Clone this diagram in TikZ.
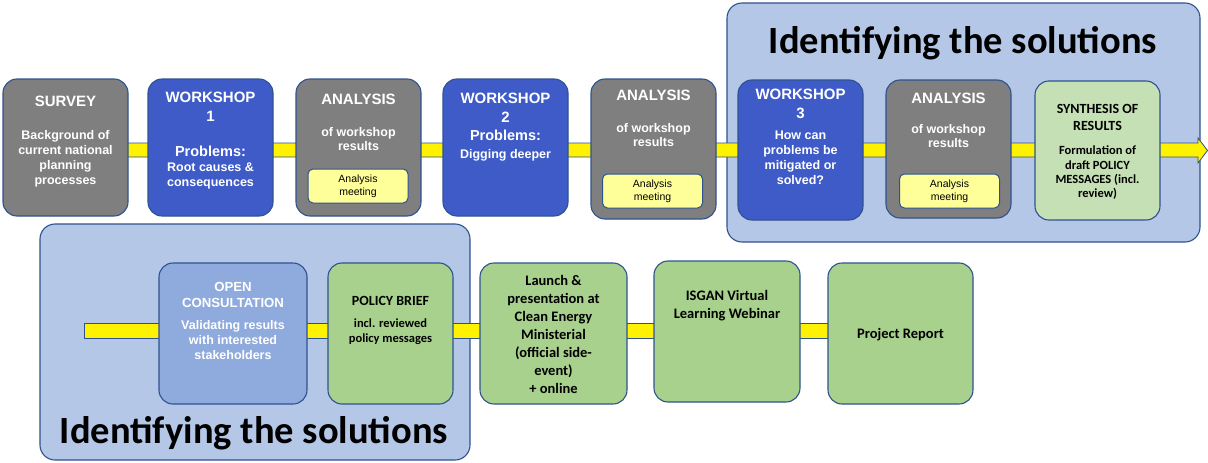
\documentclass[tikz,border=0pt]{standalone}
\usepackage{fontspec}
\setmainfont{Liberation Sans}
\newfontfamily\calib{Carlito}
\usetikzlibrary{positioning}
\definecolor{edge}{HTML}{2F528F}
\definecolor{stepgray}{HTML}{7F7F7F}
\definecolor{wsblue}{HTML}{3F5BC8}
\definecolor{panel}{HTML}{B4C7E7}
\definecolor{consultblue}{HTML}{8FAADC}
\definecolor{leaf}{HTML}{A9D18E}
\definecolor{synthgreen}{HTML}{C5E0B4}
\definecolor{meet}{HTML}{FFFF99}
\pgfdeclarelayer{panels}
\pgfdeclarelayer{bars}
\pgfsetlayers{panels,bars,main}

\begin{document}
\begin{tikzpicture}[x=1pt,y=-1pt,
  stage/.style={draw=edge,line width=1.1pt,rounded corners=14pt,minimum width=125pt,minimum height=137pt,inner sep=0pt},
  grey/.style={stage,fill=stepgray},
  ws/.style={stage,fill=wsblue},
  leafbox/.style={stage,fill=leaf},
  head/.style={anchor=north,inner sep=0pt,align=center,text=white,font=\fontsize{15}{18.5}\selectfont\bfseries},
  body/.style={anchor=north,inner sep=0pt,align=center,text=white,font=\fontsize{12.5}{15}\selectfont\bfseries},
  ghead/.style={anchor=north,inner sep=0pt,align=center,font=\calib\fontsize{14}{17}\selectfont\bfseries},
  gbody/.style={anchor=north,inner sep=0pt,align=center,font=\calib\fontsize{12.5}{14.3}\selectfont\bfseries},
  gbig/.style={anchor=north,inner sep=0pt,align=center,font=\calib\fontsize{14.5}{18}\selectfont\bfseries},
  meeting/.style={draw=edge,line width=1pt,fill=meet,rounded corners=5pt,minimum width=100pt,minimum height=34pt,inner sep=0pt,align=center,font=\fontsize{10.5}{13}\selectfont},
  panelbox/.style={draw=edge,line width=1.1pt,fill=panel,rounded corners=15pt},
  bar/.style={draw=edge,line width=0.8pt,fill=yellow},
  title/.style={anchor=base,inner sep=0pt,font=\calib\fontsize{38.5}{40}\selectfont\bfseries}]
\useasboundingbox (0,0) rectangle (1208,463);

\begin{pgfonlayer}{panels}
\draw[panelbox] (727,3) rectangle (1200,242);
\draw[panelbox] (40,224) rectangle (470,460);
\end{pgfonlayer}

% first row
\node[grey] (survey) at (65.5,147.5) {};
\node[head,below=17pt of survey.north] (survey-h) {SURVEY};
\node[body,below=52pt of survey.north] (survey-b) {Background of\\current national\\planning\\processes};

\node[ws] (wsone) at (210.5,147.5) {};
\node[head,below=13.5pt of wsone.north] (wsone-h) {WORKSHOP\\1};
\node[body,below=67pt of wsone.north] (wsone-b) {{\fontsize{14.5}{15}\selectfont Problems:}\\Root causes \&\\consequences};

\node[grey] (anone) at (358.5,147.5) {};
\node[head,below=15.5pt of anone.north] (anone-h) {ANALYSIS};
\node[body,font=\fontsize{12.5}{14}\selectfont\bfseries,below=49pt of anone.north] (anone-b) {of workshop\\results};
\node[meeting] (meetone) at (358,186) {Analysis\\meeting};

\node[ws] (wstwo) at (505.5,147.5) {};
\node[head,below=14.5pt of wstwo.north] (wstwo-h) {WORKSHOP\\2};
\node[body,font=\fontsize{12.5}{18}\selectfont\bfseries,below=51pt of wstwo.north] (wstwo-b) {{\fontsize{14.5}{15}\selectfont Problems:}\\Digging deeper};

\node[grey,minimum height=140pt] (antwo) at (653.5,149) {};
\node[head,below=11pt of antwo.north] (antwo-h) {ANALYSIS};
\node[body,font=\fontsize{12.5}{14}\selectfont\bfseries,below=45pt of antwo.north] (antwo-b) {of workshop\\results};
\node[meeting] (meettwo) at (652.5,191) {Analysis\\meeting};

\node[ws,minimum height=140pt] (wsthree) at (800.5,150) {};
\node[head,below=9.5pt of wsthree.north] (wsthree-h) {WORKSHOP\\3};
\node[body,below=51pt of wsthree.north] (wsthree-b) {How can\\problems be\\mitigated or\\solved?};

\node[grey,minimum height=138pt] (anthree) at (948.5,149) {};
\node[head,below=13pt of anthree.north] (anthree-h) {ANALYSIS};
\node[body,font=\fontsize{12.5}{14}\selectfont\bfseries,below=45pt of anthree.north] (anthree-b) {of workshop\\results};
\node[meeting] (meetthree) at (949.5,191) {Analysis\\meeting};

\node[stage,fill=synthgreen,minimum height=139pt] (synth) at (1097.5,150.5) {};
\node[ghead,below=24pt of synth.north] (synth-h) {SYNTHESIS OF\\RESULTS};
\node[gbody,below=65.5pt of synth.north] (synth-b) {Formulation of\\draft POLICY\\MESSAGES (incl.\\review)};

% second row
\node[stage,fill=consultblue,minimum width=148pt,minimum height=141pt] (consult) at (233,333.5) {};
\node[head,font=\fontsize{13.2}{16}\selectfont\bfseries,below=19.5pt of consult.north] (consult-h) {OPEN\\CONSULTATION};
\node[body,below=57.5pt of consult.north] (consult-b) {Validating results\\with interested\\stakeholders};

\node[leafbox,minimum height=141pt] (brief) at (390.5,333.5) {};
\node[ghead,below=34pt of brief.north] (brief-h) {POLICY BRIEF};
\node[gbody,below=56.5pt of brief.north] (brief-b) {incl. reviewed\\policy messages};

\node[leafbox,minimum width=147pt,minimum height=141pt] (launch) at (553.5,333.5) {};
\node[gbig,below=12.5pt of launch.north] (launch-t) {Launch \&\\presentation at\\Clean Energy\\Ministerial\\(official side-\\event)\\+ online};

\node[leafbox,minimum width=146pt,minimum height=141pt] (isgan) at (727,331.5) {};
\node[gbig,below=29.5pt of isgan.north] (isgan-t) {ISGAN Virtual\\Learning Webinar};

\node[leafbox,minimum width=145pt,minimum height=141pt] (report) at (900.5,333.5) {};
\node[gbig,below=65.5pt of report.north] (report-t) {Project Report};

\node[title] (toptitle) at (963,53) {Identifying the solutions};
\node[title] (bottitle) at (254,443) {Identifying the solutions};

\coordinate (tip) at (1207.5,150.5);
\coordinate (barstart) at (84,330.5);
\begin{pgfonlayer}{bars}
\draw[bar] (survey.center |- 0,143) -- (1198,143) -- (1198,138) -- (tip)
  -- (1198,163) -- (1198,157) -- (survey.center |- 0,157) -- cycle;
\draw[bar] (barstart |- 0,323) rectangle (report.center |- 0,338);
\end{pgfonlayer}
\end{tikzpicture}
\end{document}
